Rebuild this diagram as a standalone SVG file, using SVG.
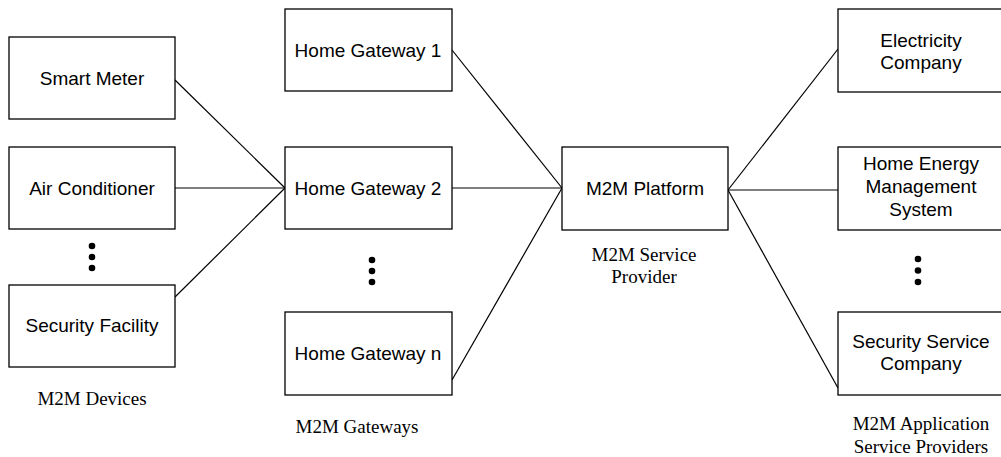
<svg xmlns="http://www.w3.org/2000/svg" width="1001" height="457" viewBox="0 0 1001 457">
<style>
.box{fill:#fff;stroke:#000;stroke-width:1.3}
.t{font-family:"Liberation Sans",Arial,sans-serif;font-size:19px;text-anchor:middle;fill:#000}
.s{font-family:"Liberation Serif","Times New Roman",serif;font-size:19px;text-anchor:middle;fill:#000}
.c line{stroke:#000;stroke-width:1.2}
.dot{fill:#000}
</style>
<rect width="1001" height="457" fill="#fff"/>
<g class="c">
<line x1="175" y1="80" x2="285" y2="188"/>
<line x1="175" y1="188" x2="285" y2="188"/>
<line x1="175" y1="297" x2="285" y2="188"/>
<line x1="452" y1="50" x2="562" y2="188"/>
<line x1="452" y1="188" x2="562" y2="188"/>
<line x1="452" y1="380" x2="562" y2="188"/>
<line x1="728" y1="190" x2="838" y2="49"/>
<line x1="728" y1="190" x2="838" y2="190"/>
<line x1="728" y1="190" x2="838" y2="388"/>
</g>
<g id="smart-meter"><rect class="box" x="9" y="37" width="166" height="82"/><text class="t" x="92" y="85">Smart Meter</text></g>
<g id="air-conditioner"><rect class="box" x="9" y="147" width="166" height="82"/><text class="t" x="92" y="195">Air Conditioner</text></g>
<g id="devices-dots"><circle class="dot" cx="92" cy="246" r="3.3"/><circle class="dot" cx="92" cy="257" r="3.3"/><circle class="dot" cx="92" cy="268" r="3.3"/></g>
<g id="security-facility"><rect class="box" x="9" y="285" width="166" height="82"/><text class="t" x="92" y="332">Security Facility</text></g>
<text class="s" x="92" y="405">M2M Devices</text>

<g id="hg1"><rect class="box" x="285" y="9" width="167" height="82"/><text class="t" x="368" y="57">Home Gateway 1</text></g>
<g id="hg2"><rect class="box" x="285" y="147" width="167" height="82"/><text class="t" x="368" y="195">Home Gateway 2</text></g>
<g id="gw-dots"><circle class="dot" cx="372" cy="260" r="3.3"/><circle class="dot" cx="372" cy="271" r="3.3"/><circle class="dot" cx="372" cy="282" r="3.3"/></g>
<g id="hgn"><rect class="box" x="285" y="312" width="167" height="83"/><text class="t" x="368" y="360">Home Gateway n</text></g>
<text class="s" x="357" y="433">M2M Gateways</text>

<g id="platform"><rect class="box" x="562" y="147" width="166" height="83"/><text class="t" x="645" y="195">M2M Platform</text></g>
<text class="s" x="644" y="261">M2M Service</text>
<text class="s" x="644" y="283">Provider</text>

<g id="electricity"><rect class="box" x="838" y="9" width="166" height="83"/><text class="t" x="921" y="47">Electricity</text><text class="t" x="921" y="69">Company</text></g>
<g id="hems"><rect class="box" x="838" y="147" width="166" height="83"/><text class="t" x="921" y="170">Home Energy</text><text class="t" x="921" y="193">Management</text><text class="t" x="921" y="216">System</text></g>
<g id="app-dots"><circle class="dot" cx="918" cy="259" r="3.3"/><circle class="dot" cx="918" cy="270.5" r="3.3"/><circle class="dot" cx="918" cy="282" r="3.3"/></g>
<g id="security-service"><rect class="box" x="838" y="312" width="166" height="83"/><text class="t" x="921" y="348">Security Service</text><text class="t" x="921" y="370">Company</text></g>
<text class="s" x="921" y="430">M2M Application</text>
<text class="s" x="921" y="453">Service Providers</text>
</svg>
